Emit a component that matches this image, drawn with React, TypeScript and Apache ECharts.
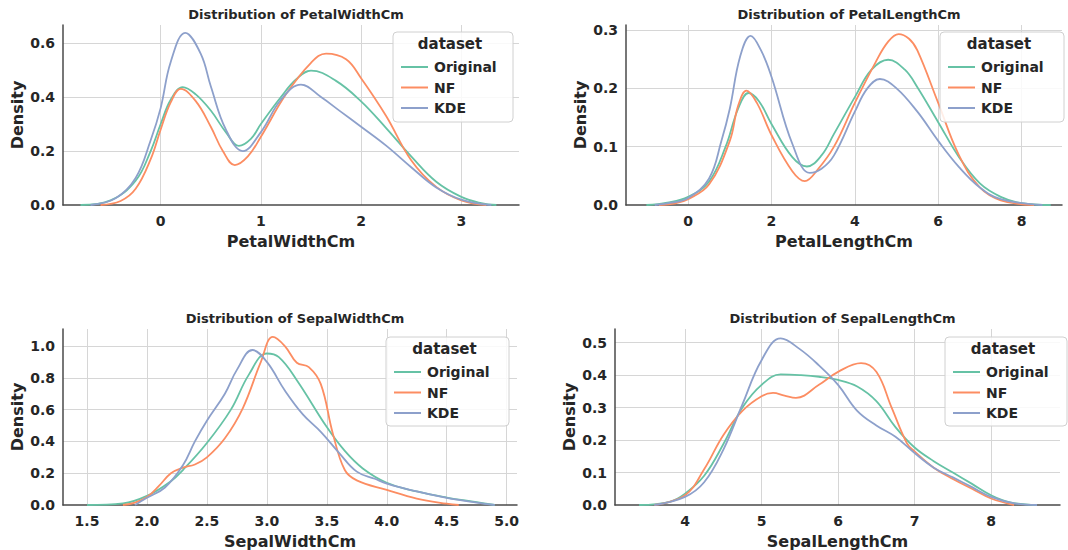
import React, { useEffect, useRef } from "react";
import * as echarts from "echarts";

const FONT = "'DejaVu Sans', sans-serif";
const seriesNames = ["Original", "NF", "KDE"];
const colors = ["#66c2a5", "#fc8d62", "#8da0cb"];
const panelTitles = [
  "Distribution of PetalWidthCm",
  "Distribution of PetalLengthCm",
  "Distribution of SepalWidthCm",
  "Distribution of SepalLengthCm",
];
const axisNames = ["PetalWidthCm", "PetalLengthCm", "SepalWidthCm", "SepalLengthCm"];

// PetalWidthCm
const pwOriginal = [
  [-0.8, 0], [-0.5, 0.017], [-0.25, 0.09], [-0.1, 0.2], [0, 0.3], [0.1, 0.39], [0.22, 0.437],
  [0.35, 0.41], [0.5, 0.35], [0.65, 0.27], [0.78, 0.219], [0.9, 0.245], [1.0, 0.3],
  [1.2, 0.4], [1.35, 0.465], [1.5, 0.498], [1.75, 0.46], [2.0, 0.384], [2.25, 0.285],
  [2.5, 0.18], [2.75, 0.086], [3.0, 0.03], [3.2, 0.007], [3.35, 0],
];
const pwNF = [
  [-0.6, 0], [-0.4, 0.015], [-0.25, 0.06], [-0.1, 0.17], [0, 0.28], [0.1, 0.38], [0.2, 0.43],
  [0.35, 0.385], [0.5, 0.29], [0.62, 0.2], [0.74, 0.148], [0.87, 0.18], [1.0, 0.253],
  [1.25, 0.41], [1.5, 0.527], [1.65, 0.561], [1.85, 0.54], [2.0, 0.47], [2.25, 0.33],
  [2.5, 0.166], [2.75, 0.067], [3.0, 0.017], [3.25, 0],
];
const pwKDE = [
  [-0.7, 0], [-0.45, 0.025], [-0.25, 0.1], [-0.1, 0.24], [0, 0.36], [0.1, 0.53], [0.245, 0.638],
  [0.4, 0.56], [0.5, 0.44], [0.65, 0.28], [0.82, 0.2], [1.0, 0.27], [1.2, 0.39],
  [1.4, 0.446], [1.6, 0.4], [1.8, 0.345], [2.0, 0.29], [2.25, 0.22], [2.5, 0.14],
  [2.75, 0.065], [3.0, 0.02], [3.3, 0],
];

// PetalLengthCm
const plOriginal = [
  [-1.0, 0], [-0.5, 0.004], [0, 0.014], [0.5, 0.04], [0.9, 0.1], [1.2, 0.165], [1.45, 0.192],
  [1.7, 0.178], [2.0, 0.139], [2.5, 0.082], [2.85, 0.066], [3.2, 0.085], [3.5, 0.122],
  [4.0, 0.185], [4.4, 0.232], [4.8, 0.249], [5.2, 0.232], [5.5, 0.202], [6.0, 0.142],
  [6.5, 0.082], [7.0, 0.037], [7.5, 0.014], [8.0, 0.003], [8.7, 0],
];
const plNF = [
  [-0.7, 0], [-0.3, 0.003], [0, 0.01], [0.5, 0.035], [1.0, 0.11], [1.2, 0.17], [1.4, 0.196],
  [1.65, 0.175], [2.0, 0.12], [2.5, 0.058], [2.8, 0.041], [3.1, 0.06], [3.5, 0.1],
  [4.0, 0.175], [4.5, 0.245], [4.8, 0.28], [5.05, 0.293], [5.3, 0.285], [5.5, 0.265],
  [6.0, 0.175], [6.5, 0.085], [7.0, 0.03], [7.5, 0.008], [8.3, 0],
];
const plKDE = [
  [-0.8, 0], [-0.4, 0.004], [0, 0.012], [0.5, 0.045], [0.8, 0.11], [1.0, 0.165], [1.25, 0.255],
  [1.5, 0.29], [1.75, 0.265], [2.0, 0.22], [2.5, 0.105], [2.92, 0.055], [3.2, 0.062],
  [3.5, 0.085], [4.0, 0.16], [4.3, 0.2], [4.6, 0.216], [5.0, 0.2], [5.5, 0.16],
  [6.0, 0.11], [6.5, 0.065], [7.0, 0.03], [7.5, 0.01], [8.5, 0],
];

// SepalWidthCm
const swOriginal = [
  [1.5, 0], [1.8, 0.01], [2.0, 0.057], [2.2, 0.15], [2.3, 0.22], [2.5, 0.39], [2.7, 0.6],
  [2.85, 0.82], [3.0, 0.953], [3.1, 0.93], [3.25, 0.785], [3.5, 0.49], [3.65, 0.34],
  [3.8, 0.23], [4.0, 0.14], [4.25, 0.085], [4.5, 0.047], [4.75, 0.018], [4.9, 0],
];
const swNF = [
  [1.8, 0], [1.9, 0.015], [2.0, 0.05], [2.1, 0.12], [2.2, 0.2], [2.3, 0.235], [2.4, 0.255],
  [2.5, 0.3], [2.65, 0.42], [2.8, 0.61], [2.95, 0.9], [3.05, 1.057], [3.15, 1.0],
  [3.25, 0.895], [3.35, 0.867], [3.45, 0.76], [3.55, 0.45], [3.65, 0.22], [3.75, 0.155],
  [4.0, 0.095], [4.25, 0.04], [4.5, 0.008], [4.6, 0],
];
const swKDE = [
  [1.9, 0], [2.0, 0.045], [2.15, 0.11], [2.3, 0.25], [2.4, 0.4], [2.5, 0.53], [2.65, 0.7],
  [2.75, 0.85], [2.88, 0.975], [3.0, 0.9], [3.15, 0.72], [3.3, 0.57], [3.45, 0.46],
  [3.6, 0.33], [3.75, 0.21], [3.9, 0.165], [4.0, 0.135], [4.25, 0.085], [4.5, 0.045],
  [4.75, 0.015], [4.9, 0],
];

// SepalLengthCm
const slOriginal = [
  [3.4, 0], [3.8, 0.01], [4.0, 0.035], [4.25, 0.09], [4.5, 0.187], [4.75, 0.3], [5.0, 0.37],
  [5.25, 0.402], [5.5, 0.4], [5.75, 0.395], [6.0, 0.385], [6.25, 0.365], [6.5, 0.32],
  [6.75, 0.24], [7.0, 0.177], [7.25, 0.135], [7.5, 0.1], [7.75, 0.065], [8.0, 0.03],
  [8.25, 0.008], [8.6, 0],
];
const slNF = [
  [3.6, 0], [4.0, 0.03], [4.25, 0.11], [4.5, 0.215], [4.75, 0.29], [5.0, 0.335], [5.15, 0.345],
  [5.3, 0.337], [5.45, 0.33], [5.75, 0.37], [6.0, 0.41], [6.3, 0.437], [6.5, 0.41],
  [6.7, 0.3], [6.9, 0.19], [7.0, 0.165], [7.25, 0.115], [7.5, 0.08], [7.75, 0.05],
  [8.0, 0.02], [8.3, 0],
];
const slKDE = [
  [3.6, 0], [4.0, 0.025], [4.25, 0.07], [4.5, 0.17], [4.75, 0.31], [5.0, 0.446], [5.25, 0.513],
  [5.5, 0.48], [5.75, 0.43], [6.0, 0.37], [6.25, 0.29], [6.5, 0.245], [6.75, 0.21],
  [7.0, 0.16], [7.25, 0.115], [7.5, 0.085], [7.75, 0.055], [8.0, 0.025], [8.3, 0.005],
  [8.6, 0],
];

const panelData = [
  [pwOriginal, pwNF, pwKDE],
  [plOriginal, plNF, plKDE],
  [swOriginal, swNF, swKDE],
  [slOriginal, slNF, slKDE],
];

const xRanges = [[-0.975, 3.576], [-1.49, 8.97], [1.3, 5.086], [3.085, 8.9]];
const xIntervals = [1, 2, 0.5, 1];
const yRanges = [[0, 0.667], [0, 0.3086], [0, 1.107], [0, 0.542]];
const yIntervals = [0.2, 0.1, 0.2, 0.1];

const grids = [
  { left: 63, top: 25, width: 456, height: 180 },
  { left: 626, top: 25, width: 436, height: 180 },
  { left: 63, top: 329, width: 454, height: 180 },
  { left: 615, top: 329, width: 445, height: 180 },
];
const legendBoxes = [
  { x: 393, y: 32, w: 120, h: 90 },
  { x: 940, y: 32, w: 124, h: 90 },
  { x: 386, y: 337, w: 123, h: 89 },
  { x: 945, y: 337, w: 122, h: 89 },
];

function isMultiple(v: number, iv: number) {
  const r = v / iv;
  return Math.abs(r - Math.round(r)) < 1e-6;
}

export default function App() {
  const ref = useRef<HTMLDivElement>(null);
  useEffect(() => {
    if (!ref.current) return;
    const chart = echarts.init(ref.current, undefined, { renderer: "svg" });
    const labelStyle = { fontFamily: FONT, fontWeight: "bold" as const, fontSize: 14, color: "#262626" };
    const nameStyle = { fontFamily: FONT, fontWeight: "bold" as const, fontSize: 16, color: "#262626" };
    const xAxis = grids.map((_, i) => ({
      gridIndex: i,
      type: "value",
      min: xRanges[i][0],
      max: xRanges[i][1],
      minInterval: xIntervals[i],
      maxInterval: xIntervals[i],
      splitNumber: 5,
      name: axisNames[i],
      nameLocation: "middle",
      nameGap: 28,
      nameTextStyle: nameStyle,
      axisLine: { show: true, onZero: false, lineStyle: { color: "#4a4a4a", width: 1.5 } },
      axisTick: { show: false },
      axisLabel: {
        ...labelStyle,
        margin: 9,
        formatter: (v: number) =>
          isMultiple(v, xIntervals[i]) ? (xIntervals[i] < 1 ? v.toFixed(1) : String(Math.round(v))) : "",
      },
      splitLine: { show: true, showMinLine: false, showMaxLine: false, lineStyle: { color: "#d6d6d6", width: 1 } },
    }));
    const yAxis = grids.map((_, i) => ({
      gridIndex: i,
      type: "value",
      min: yRanges[i][0],
      max: yRanges[i][1],
      minInterval: yIntervals[i],
      maxInterval: yIntervals[i],
      splitNumber: 5,
      name: "Density",
      nameLocation: "middle",
      nameGap: 38,
      nameTextStyle: nameStyle,
      axisLine: { show: true, onZero: false, lineStyle: { color: "#4a4a4a", width: 1.5 } },
      axisTick: { show: false },
      axisLabel: {
        ...labelStyle,
        margin: 8,
        formatter: (v: number) => (isMultiple(v, yIntervals[i]) ? v.toFixed(1) : ""),
      },
      splitLine: { show: true, showMinLine: false, showMaxLine: false, lineStyle: { color: "#d6d6d6", width: 1 } },
    }));
    const series: any[] = [];
    panelData.forEach((arr, i) => {
      arr.forEach((d, j) => {
        series.push({
          type: "line",
          name: seriesNames[j],
          xAxisIndex: i,
          yAxisIndex: i,
          data: d,
          smooth: 0.4,
          showSymbol: false,
          symbol: "none",
          lineStyle: { color: colors[j], width: 1.8 },
          itemStyle: { color: colors[j] },
          z: 3 + j,
        });
      });
    });
    const title = grids.map((g, i) => ({
      text: panelTitles[i],
      left: g.left + g.width / 2,
      top: i < 2 ? 3 : 307,
      textAlign: "center",
      textStyle: { fontFamily: FONT, fontWeight: "bold", fontSize: 13, color: "#262626" },
    }));
    const legend = legendBoxes.map((b) => ({
      orient: "vertical",
      left: b.x + 3,
      top: b.y + 22,
      itemWidth: 27,
      itemHeight: 2,
      itemGap: 4.5,
      icon: "rect",
      data: seriesNames,
      z: 30,
      textStyle: { ...labelStyle, lineHeight: 16, padding: [0, 0, 0, 1] },
      selectedMode: false,
    }));
    const graphic: any[] = [];
    legendBoxes.forEach((b) => {
      graphic.push({
        type: "rect",
        shape: { x: b.x, y: b.y, width: b.w, height: b.h, r: 4 },
        style: { fill: "rgba(255,255,255,0.85)", stroke: "#d0d0d0", lineWidth: 1 },
        z: 10,
      });
      graphic.push({
        type: "text",
        x: b.x + b.w / 2 - 3,
        y: b.y + 12,
        style: {
          text: "dataset",
          fontFamily: FONT,
          fontWeight: "bold",
          fontSize: 15,
          fill: "#262626",
          align: "center",
          verticalAlign: "middle",
        },
        z: 11,
      });
    });
    chart.setOption({
      animation: false,
      backgroundColor: "#ffffff",
      title,
      grid: grids.map((g) => ({ ...g, containLabel: false })),
      xAxis,
      yAxis,
      legend,
      graphic,
      series,
    });
    return () => chart.dispose();
  }, []);
  return <div ref={ref} style={{ position: "fixed", left: 0, top: 0, width: 1068, height: 550 }} />;
}
